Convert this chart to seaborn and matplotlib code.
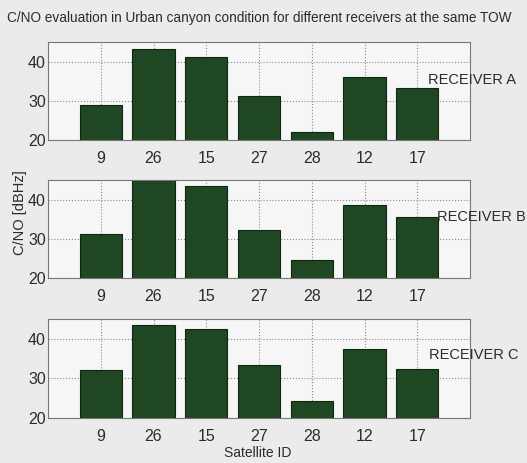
import matplotlib
matplotlib.use("Agg")
import matplotlib.pyplot as plt
import seaborn as sns
import pandas as pd

satellites = ['9', '26', '15', '27', '28', '12', '17']
receiver_a = [29.0, 43.1, 41.3, 31.1, 22.0, 36.1, 33.2]
receiver_b = [31.2, 45.0, 43.5, 32.3, 24.5, 38.5, 35.5]
receiver_c = [32.0, 43.5, 42.4, 33.4, 24.3, 37.5, 32.4]
receiver_names = ['RECEIVER A', 'RECEIVER B', 'RECEIVER C']
y_ticks = [20, 30, 40]

sns.set_style("white")
plt.rcParams['font.family'] = ['Liberation Sans', 'DejaVu Sans']

W, H = 527, 463
fig = plt.figure(figsize=(W / 100, H / 100), dpi=100)
fig.patch.set_facecolor('#ebebeb')

txt = '#2b2b2b'
bar_color = '#1f4723'
edge_color = '#10260f'

panels = [
    (receiver_a, 42, 140, (428, 80)),
    (receiver_b, 180, 278, (437, 217)),
    (receiver_c, 319, 418, (429, 355)),
]

left, right = 48, 470
for (vals, top, bottom, (lx, ly)), name in zip(panels, receiver_names):
    ax = fig.add_axes([left / W, 1 - bottom / H, (right - left) / W, (bottom - top) / H])
    ax.set_facecolor('#f6f6f6')
    df = pd.DataFrame({'sat': satellites, 'cn0': vals})
    sns.barplot(data=df, x='sat', y='cn0', order=satellites, color=bar_color,
                width=0.8, edgecolor=edge_color, linewidth=0.8, saturation=1, ax=ax)
    ax.set_xlim(-1, 7)
    ax.set_ylim(20, 45)
    ax.set_yticks(y_ticks)
    ax.set_xlabel('')
    ax.set_ylabel('')
    ax.grid(True, linestyle=':', color='#8a8a8a', linewidth=0.8)
    ax.set_axisbelow(True)
    ax.tick_params(axis='both', direction='in', length=3, color='#555555',
                   labelsize=11.5, labelcolor=txt)
    ax.tick_params(axis='x', pad=8)
    ax.tick_params(axis='y', pad=1.5)
    for s in ax.spines.values():
        s.set_visible(True)
        s.set_color('#777777')
        s.set_linewidth(0.8)
    fig.text(lx / W, 1 - ly / H, name, ha='left', va='center', fontsize=10.5, color=txt)

fig.text(259 / W, 1 - 18 / H,
         'C/NO evaluation in Urban canyon condition for different receivers at the same TOW',
         ha='center', va='center', fontsize=9.8, color=txt)
fig.text(20 / W, 1 - 213 / H, 'C/NO [dBHz]', rotation=90, ha='center', va='center',
         fontsize=10.5, color=txt)
fig.text(258 / W, 1 - 453 / H, 'Satellite ID', ha='center', va='center',
         fontsize=10, color=txt)

fig.savefig('out.png', dpi=100, facecolor=fig.get_facecolor())
